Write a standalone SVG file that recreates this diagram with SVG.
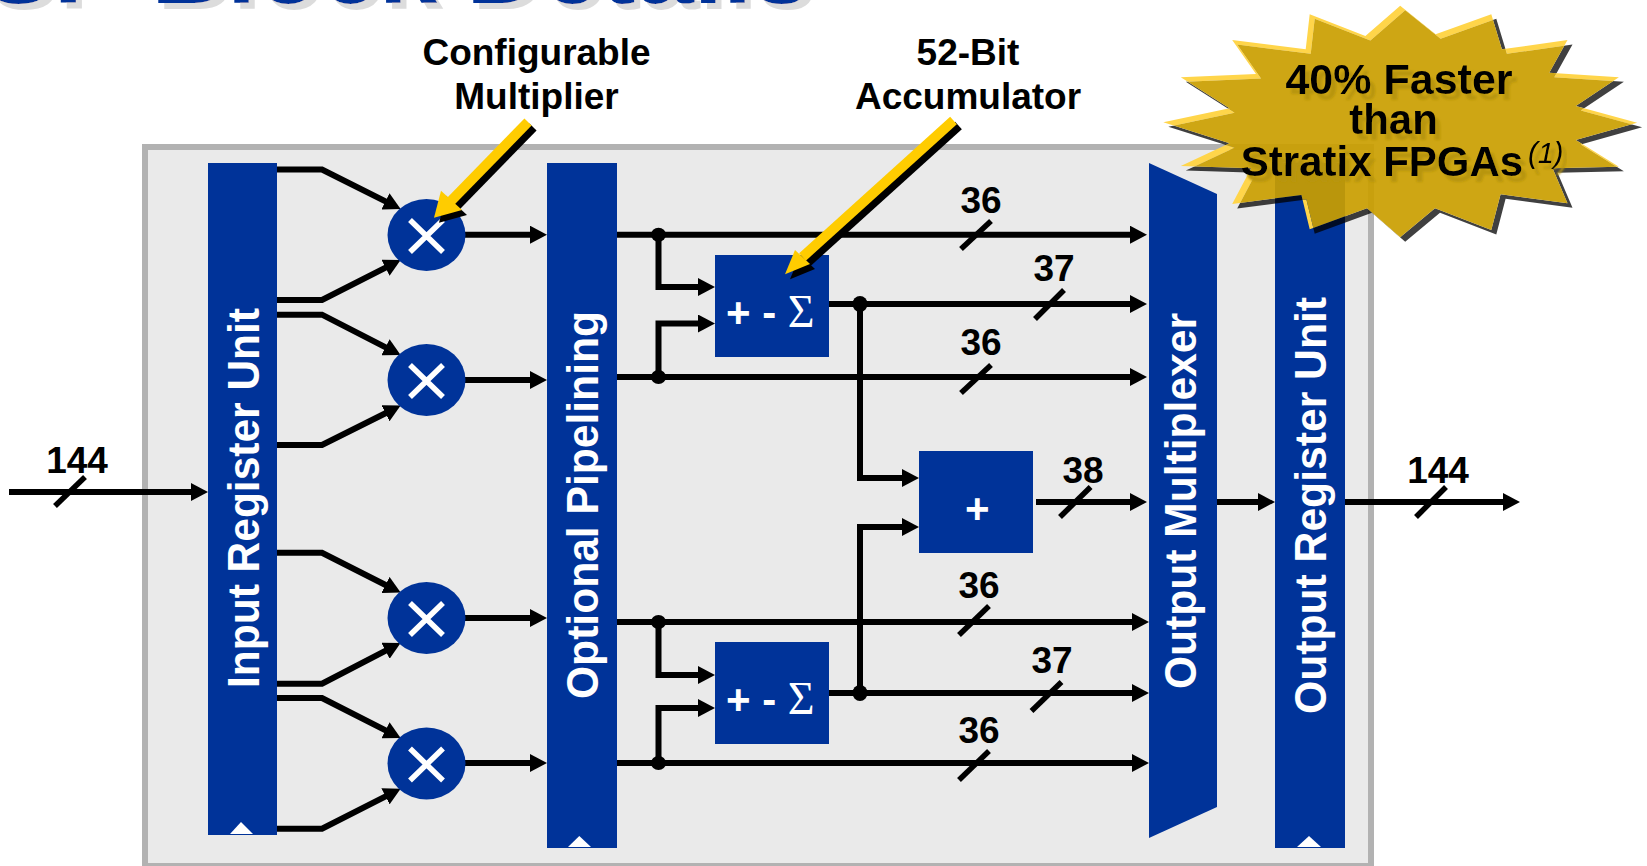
<svg xmlns="http://www.w3.org/2000/svg" xmlns:xlink="http://www.w3.org/1999/xlink" width="1647" height="866" viewBox="0 0 1647 866">
<style>
text{font-family:"Liberation Sans",Arial,sans-serif;font-weight:bold}
.lbl{font-size:37px;fill:#000;text-anchor:middle}
.bar{font-size:45px;fill:#fff}
.blue{fill:#003399}
.clk{fill:#fff}
.w{fill:none;stroke:#000;stroke-width:6;marker-end:url(#ah)}
.s{stroke:#000;stroke-width:5.5;fill:none}
.x{stroke:#fff;stroke-width:5.5;fill:none}
.dot{fill:#000}
.st{font-size:42px;fill:#000;text-anchor:middle;filter:url(#ts)}
</style>
<defs>
<marker id="ah" markerUnits="userSpaceOnUse" markerWidth="17" markerHeight="18" viewBox="0 0 17 18" refX="9" refY="9" orient="auto"><path d="M0,0L17,9L0,18Z" fill="#000"/></marker>
<filter id="ts" x="-10%" y="-20%" width="120%" height="140%"><feDropShadow dx="5" dy="6" stdDeviation="0.8" flood-color="#b8950c"/></filter>
<filter id="tt" x="-5%" y="-10%" width="110%" height="120%"><feDropShadow dx="6" dy="6" stdDeviation="0" flood-color="#dcdcdc"/></filter>
<polygon id="star" points="1400.2,5.7 1435.6,34.3 1491.3,14.3 1501.9,49.3 1567.5,40 1549.3,72.7 1618.9,77.3 1575.8,106 1637.1,122.7 1575.8,140 1618.9,166.7 1552.6,168.3 1567.5,203.3 1500.6,194.3 1491.3,230 1435,208.3 1400.2,237.3 1367,208.3 1309.7,229.3 1301.4,195 1232.2,204 1251.1,168.3 1180.8,166 1229.5,143.3 1163.3,122.3 1229.5,108.3 1180.8,77.3 1256,74 1232.2,40 1305.7,49.3 1309.7,14.3 1365.4,36"/>
<clipPath id="cy"><use href="#star"/></clipPath>
<mask id="noY" maskUnits="userSpaceOnUse" x="0" y="0" width="1647" height="866"><rect width="1647" height="866" fill="#fff"/><use href="#star" fill="#000"/></mask>
<mask id="noD" maskUnits="userSpaceOnUse" x="0" y="0" width="1647" height="866"><rect width="1647" height="866" fill="#fff"/><use href="#star" fill="#000" transform="translate(5,4.5)"/></mask>
<g id="arrowA"><path d="M528,122L451,201" stroke-width="10" stroke="currentColor" fill="none"/><polygon points="434,217.7 441,190.7 462,210" fill="currentColor"/></g>
<g id="arrowB"><path d="M953.5,120.5L802.5,257" stroke-width="10" stroke="currentColor" fill="none"/><polygon points="785,274.3 795,250 810,264" fill="currentColor"/></g>
</defs>

<text id="title" x="-92" y="3" style="font-size:105px;fill:#003399;filter:url(#tt)">DSP Block Details</text>

<g id="frame"><rect x="142" y="144" width="1232" height="722" fill="#b2b2b2"/><rect x="148" y="150" width="1220" height="713" fill="#eaeaea"/></g>

<g id="connectors">
<path class="w" d="M9,492H200"/>
<path class="w" d="M277,169.5H322L393.5,205.4"/>
<path class="w" d="M277,300H322L393.5,263.6"/>
<path class="w" d="M277,314.7H322L393.5,351.4"/>
<path class="w" d="M277,445H322L393.5,409.2"/>
<path class="w" d="M277,552.7H322L393.5,589"/>
<path class="w" d="M277,683.7H322L393.5,646.6"/>
<path class="w" d="M277,698H322L393.5,734.4"/>
<path class="w" d="M277,828.7H322L393.5,792.3"/>
<path class="w" d="M465,234.7H539"/>
<path class="w" d="M465,380H539"/>
<path class="w" d="M465,618H539"/>
<path class="w" d="M465,763H539"/>
<path class="w" d="M617,234.7H1139"/>
<path class="w" d="M617,377H1139"/>
<path class="w" d="M617,622H1141"/>
<path class="w" d="M617,763H1141"/>
<path class="w" d="M658.5,234.7V287H707"/>
<path class="w" d="M658.5,377V323.5H707"/>
<path class="w" d="M658.5,622V675H707"/>
<path class="w" d="M658.5,763V708H707"/>
<path class="w" d="M829,304H1139"/>
<path class="w" d="M829,693H1141"/>
<path class="w" d="M860,304V478H911"/>
<path class="w" d="M860,693V527H911"/>
<path class="w" d="M1036,502H1139"/>
<path class="w" d="M1217,502H1267"/>
<path class="w" d="M1345,502H1512"/>
<ellipse class="dot" cx="658.5" cy="234.7" rx="7.5" ry="7"/>
<ellipse class="dot" cx="658.5" cy="377" rx="7.5" ry="7"/>
<ellipse class="dot" cx="658.5" cy="622" rx="7.5" ry="7"/>
<ellipse class="dot" cx="658.5" cy="763" rx="7.5" ry="7"/>
<ellipse class="dot" cx="860" cy="304" rx="7.5" ry="8"/>
<ellipse class="dot" cx="860" cy="693" rx="7.5" ry="8"/>
<path class="s" d="M55,506L85,477"/>
<path class="s" d="M961,249L991,221"/>
<path class="s" d="M1035,319L1064,290"/>
<path class="s" d="M961,393L991,365"/>
<path class="s" d="M1060,517L1090.6,487"/>
<path class="s" d="M959,635L989,606"/>
<path class="s" d="M1031.5,711L1061.5,682"/>
<path class="s" d="M959,780L989,751"/>
<path class="s" d="M1416,517L1446,487"/>
</g>

<g id="input-register"><rect class="blue" x="208" y="163" width="69" height="672"/><polygon class="clk" points="241,822 253,834 230,834"/><text class="bar" transform="translate(258.5,688) rotate(-90)" textLength="380" lengthAdjust="spacingAndGlyphs">Input Register Unit</text></g>
<g id="mult-1"><ellipse class="blue" cx="426.5" cy="235" rx="39" ry="36"/><path class="x" d="M410,220L443,252M443,220L410,252"/></g>
<g id="mult-2"><ellipse class="blue" cx="426.5" cy="380" rx="39" ry="36"/><path class="x" d="M410,365L443,397M443,365L410,397"/></g>
<g id="mult-3"><ellipse class="blue" cx="426.5" cy="618" rx="39" ry="36"/><path class="x" d="M410,603L443,635M443,603L410,635"/></g>
<g id="mult-4"><ellipse class="blue" cx="426.5" cy="763.5" rx="39" ry="36"/><path class="x" d="M410,748.5L443,780.5M443,748.5L410,780.5"/></g>
<g id="pipelining"><rect class="blue" x="547" y="163" width="70" height="685"/><polygon class="clk" points="579.3,836 591,847 568,847"/><text class="bar" transform="translate(597.5,699) rotate(-90)" textLength="388" lengthAdjust="spacingAndGlyphs">Optional Pipelining</text></g>
<g id="accum-1"><rect class="blue" x="715" y="255" width="114" height="102"/><text x="726" y="327" style="font-size:42px;fill:#fff">+ - <tspan style="font-family:'Liberation Serif',serif;font-weight:normal;font-size:46px">Σ</tspan></text></g>
<g id="accum-2"><rect class="blue" x="715" y="642" width="114" height="102"/><text x="726" y="714" style="font-size:42px;fill:#fff">+ - <tspan style="font-family:'Liberation Serif',serif;font-weight:normal;font-size:46px">Σ</tspan></text></g>
<g id="adder"><rect class="blue" x="919" y="451" width="114" height="102"/><text x="965" y="523" style="font-size:42px;fill:#fff">+</text></g>
<g id="output-mux"><polygon class="blue" points="1149,163 1217,194 1217,807 1149,838"/><text class="bar" transform="translate(1196,689) rotate(-90)" textLength="376" lengthAdjust="spacingAndGlyphs">Output Multiplexer</text></g>
<g id="output-register"><rect class="blue" x="1275" y="163" width="70" height="685"/><polygon class="clk" points="1309,836 1321,847 1297,847"/><text class="bar" transform="translate(1325.5,714) rotate(-90)" textLength="417" lengthAdjust="spacingAndGlyphs">Output Register Unit</text></g>

<g id="labels">
<text class="lbl" x="77" y="472.5">144</text>
<text class="lbl" x="981" y="213">36</text>
<text class="lbl" x="1054" y="281">37</text>
<text class="lbl" x="981" y="355">36</text>
<text class="lbl" x="1083" y="483">38</text>
<text class="lbl" x="979" y="597.5">36</text>
<text class="lbl" x="1052" y="673">37</text>
<text class="lbl" x="979" y="742.5">36</text>
<text class="lbl" x="1438" y="483">144</text>
<text class="lbl" x="536.5" y="65">Configurable</text>
<text class="lbl" x="536.5" y="109">Multiplier</text>
<text class="lbl" x="968" y="65">52-Bit</text>
<text class="lbl" x="968" y="109">Accumulator</text>
</g>

<g id="callout-arrow-1"><use href="#arrowA" color="#000" transform="translate(5,5)"/><use href="#arrowA" color="#ffcc00"/></g>
<g id="callout-arrow-2"><use href="#arrowB" color="#000" transform="translate(5,5)"/><use href="#arrowB" color="#ffcc00"/></g>

<g id="starburst">
<g mask="url(#noY)"><use href="#star" transform="translate(5,4.5)" fill="#000" fill-opacity="0.75"/></g>
<g mask="url(#noD)"><use href="#star" fill="#ffd54a"/></g>
<g clip-path="url(#cy)"><use href="#star" transform="translate(5,4.5)" fill="#ca9e00" fill-opacity="0.92"/></g>
<text class="st" x="1399" y="94" style="font-size:43px">40% Faster</text>
<text class="st" x="1393.5" y="134">than</text>
<text class="st" x="1382" y="175.5">Stratix FPGAs</text>
<text x="1528" y="163" style="font-size:29px;font-weight:normal;font-style:italic;fill:#000;filter:url(#ts)">(1)</text>
</g>
</svg>
